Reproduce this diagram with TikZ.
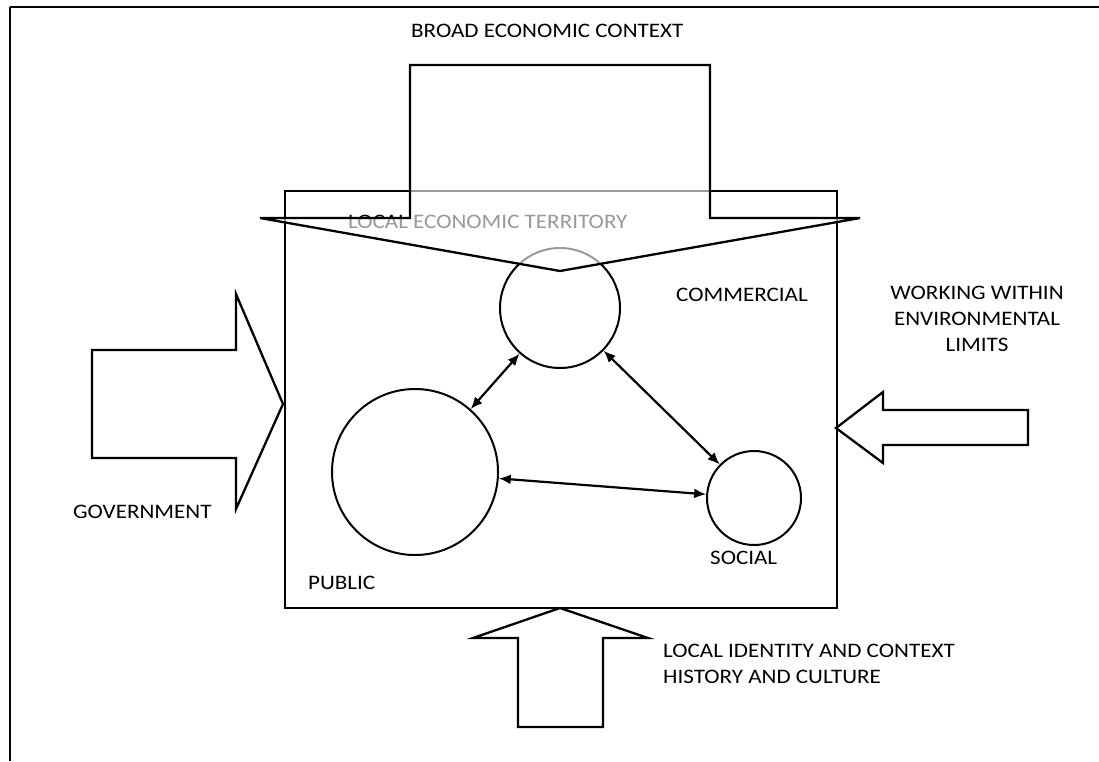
\documentclass[tikz,border=0pt]{standalone}
\usepackage{fontspec}
\setmainfont{Carlito}[FakeStretch=1.12]
\usetikzlibrary{arrows.meta}
\begin{document}
\begin{tikzpicture}[x=1pt,y=-1pt,
  line width=2.3pt,
  lbl/.style={inner sep=0pt,font=\fontsize{20.6}{26}\selectfont},
  circ/.style={circle,draw,line width=2pt,inner sep=0pt},
  link/.style={line width=2.2pt,{Latex[length=12pt,width=10pt]}-{Latex[length=12pt,width=10pt]}},
  block/.style={draw,fill=white,line join=miter}]
\useasboundingbox (0,0) rectangle (1099,761);
% outer frame (top and left only)
\draw[line width=2.6pt] (10,7) -- (1099,7);
\draw[line width=2.6pt] (10,7) -- (10,761);
% territory box
\node[draw,line width=2.3pt,minimum width=552pt,minimum height=417pt,inner sep=0pt,anchor=north west] (box) at (284,190) {};
% circles
\node[circ,minimum size=120pt] (com) at (560,308) {};
\node[circ,minimum size=166pt] (pub) at (415,472) {};
\node[circ,minimum size=94pt] (soc) at (754,498) {};
\node[lbl,anchor=base west] (let) at (347,228) {LOCAL ECONOMIC TERRITORY};
% broad economic context funnel (semi-transparent)
\draw[fill=white,fill opacity=0.6,line join=miter]
  (410,65) -- (710,65) -- (710,218) -- (860,218) -- (560,271) -- (260,218) -- (410,218) -- cycle;
% links
\draw[link] (com) -- (pub);
\draw[link] (com) -- (soc);
\draw[link] (pub) -- (soc);
% block arrows
\draw[block] (92,350) -- (236,350) -- (236,294) -- (283,404) -- (236,509) -- (236,458) -- (92,458) -- cycle;
\draw[block] (1028,410) -- (883,410) -- (883,392) -- (836,428) -- (883,463) -- (883,445) -- (1028,445) -- cycle;
\draw[block] (518,727) -- (518,638) -- (473,638) -- (560,608) -- (648,638) -- (603,638) -- (603,727) -- cycle;
% labels
\node[lbl,anchor=base west] (bec) at (410,37) {BROAD ECONOMIC CONTEXT};
\node[lbl,anchor=base west] (comt) at (675,301) {COMMERCIAL};
\node[lbl,align=center,anchor=base] (env) at (977,351) {WORKING WITHIN\\ENVIRONMENTAL\\LIMITS};
\node[lbl,anchor=base west] (gov) at (72,518) {GOVERNMENT};
\node[lbl,anchor=base west] (pubt) at (307,589) {PUBLIC};
\node[lbl,anchor=base west] (soct) at (709,564) {SOCIAL};
\node[lbl,align=left,anchor=base west] (lic) at (662,683) {LOCAL IDENTITY AND CONTEXT\\HISTORY AND CULTURE};
\end{tikzpicture}
\end{document}
